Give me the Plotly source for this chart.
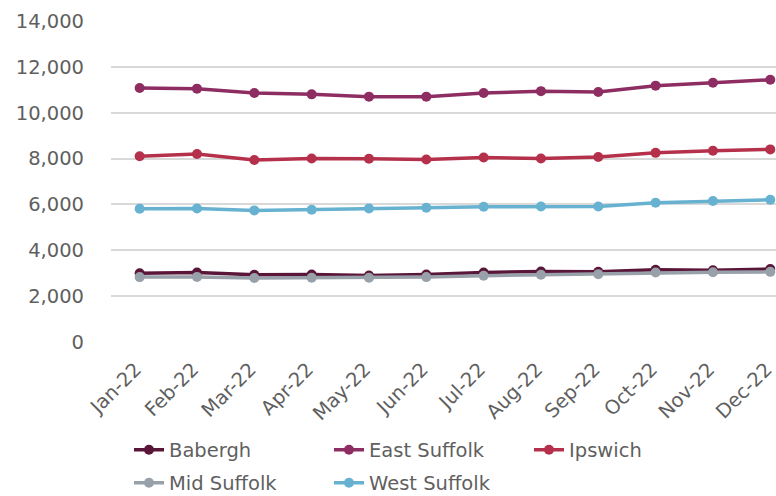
import plotly.graph_objects as go

months = ["Jan-22", "Feb-22", "Mar-22", "Apr-22", "May-22", "Jun-22",
          "Jul-22", "Aug-22", "Sep-22", "Oct-22", "Nov-22", "Dec-22"]

babergh = [3000, 3030, 2930, 2945, 2900, 2945, 3030, 3075, 3060, 3150, 3130, 3180]
east_suffolk = [11080, 11050, 10860, 10800, 10700, 10700, 10860, 10940, 10900, 11180, 11310, 11440]
ipswich = [8100, 8200, 7940, 8000, 7990, 7960, 8050, 8000, 8070, 8250, 8340, 8400]
mid_suffolk = [2830, 2840, 2790, 2800, 2800, 2830, 2890, 2930, 2960, 3030, 3045, 3060]
west_suffolk = [5810, 5825, 5740, 5770, 5825, 5855, 5900, 5910, 5910, 6075, 6150, 6205]

series = [
    ("Babergh", babergh, "#5A1639", "legend"),
    ("East Suffolk", east_suffolk, "#8E2D62", "legend"),
    ("Ipswich", ipswich, "#B5304A", "legend"),
    ("Mid Suffolk", mid_suffolk, "#98A0A9", "legend2"),
    ("West Suffolk", west_suffolk, "#67B1D1", "legend2"),
]

FONT = "DejaVu Sans"
GREY = "#5f5f5f"
SIZE = 19.5

# plot area in pixels
L, R, T, B = 111, 0, 21, 154
W, H = 776, 496
PW, PH = W - L - R, H - T - B

fig = go.Figure()
for name, vals, color, leg in series:
    fig.add_trace(go.Scatter(
        x=months, y=vals, name=name, mode="lines+markers",
        line=dict(color=color, width=3.5),
        marker=dict(color=color, size=10),
        legend=leg,
    ))

legend_common = dict(
    orientation="h", xanchor="left", yanchor="middle",
    font=dict(family=FONT, size=SIZE, color=GREY),
    bgcolor="rgba(0,0,0,0)", entrywidth=155, tracegroupgap=0,
    itemwidth=30, borderwidth=0,
)

fig.update_layout(
    width=W, height=H,
    margin=dict(l=L, r=R, t=T, b=B, autoexpand=False),
    paper_bgcolor="white", plot_bgcolor="white",
    showlegend=True,
    legend=dict(x=(129 - L) / PW, y=-(450 - T - PH) / PH, **legend_common),
    legend2=dict(x=(129 - L) / PW, y=-(483 - T - PH) / PH, **legend_common),
    xaxis=dict(
        type="category", range=[-0.5, 11.1], tickangle=-45,
        showgrid=False, zeroline=False, showline=False, ticks="",
        automargin=False, ticklabelstandoff=11, ticklabelshift=-4,
        tickfont=dict(family=FONT, size=SIZE, color=GREY),
    ),
    yaxis=dict(
        range=[0, 14000], tickvals=[0, 2000, 4000, 6000, 8000, 10000, 12000, 14000],
        tickformat=",d", showgrid=True, gridcolor="#D9D9D9", gridwidth=1.5,
        zeroline=False, showline=False, ticks="", ticklabelstandoff=26,
        automargin=False,
        tickfont=dict(family=FONT, size=SIZE, color=GREY),
    ),
)

fig.write_html("out.html")
